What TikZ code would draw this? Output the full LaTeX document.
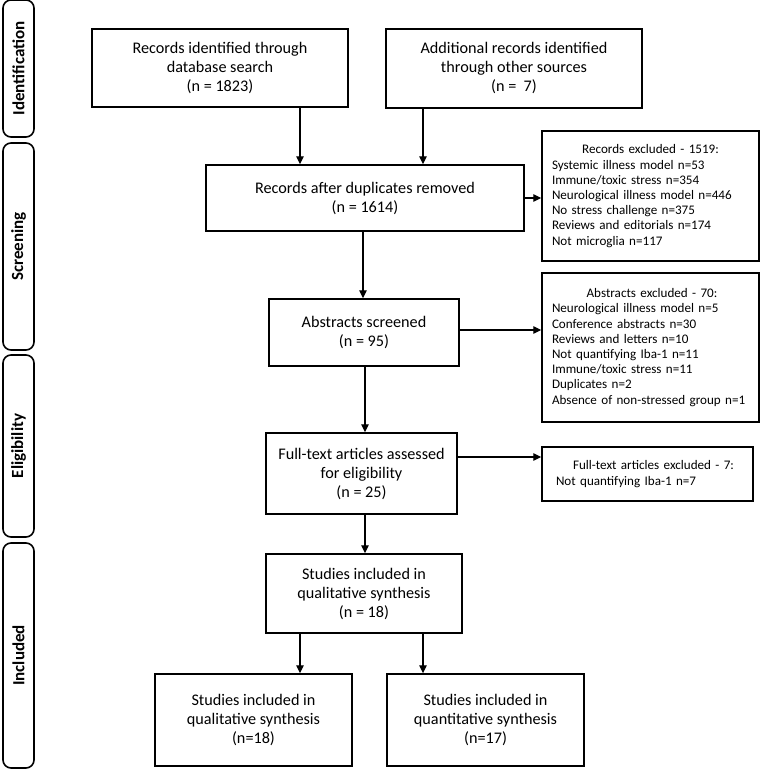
\documentclass[tikz,border=0pt]{standalone}
\usepackage{fontspec}
\setmainfont{Carlito}
\usetikzlibrary{arrows.meta,calc}
\begin{document}
\begin{tikzpicture}[x=1pt,y=-1pt,
  box/.style={draw,line width=1.4pt,align=center,inner sep=2pt,font=\fontsize{16.2}{19}\selectfont},
  exbox/.style={draw,line width=1.4pt,inner xsep=10pt,inner ysep=2pt,align=left,font=\fontsize{13.1}{15.2}\selectfont},
  side/.style={draw,line width=1.6pt,rounded corners=8pt,minimum width=31pt},
  sidelabel/.style={rotate=90,font=\bfseries\fontsize{17}{19}\selectfont},
  arr/.style={line width=1.3pt,-{Triangle[width=7.5pt,length=8pt]}}]
\useasboundingbox (0,0) rectangle (761,770);
% side bars
\node[side,minimum height=137pt] (sid) at (18.5,68.5) {};
\node[sidelabel] (lid) at (sid.center) {Identification};
\node[side,minimum height=207pt] (ssc) at (18.5,246.5) {};
\node[sidelabel] (lsc) at (ssc.center) {Screening};
\node[side,minimum height=182pt] (sel) at (18.5,446) {};
\node[sidelabel] (lel) at (sel.center) {Eligibility};
\node[side,minimum height=225pt] (sin) at (18.5,655.5) {};
\node[sidelabel] (lin) at (sin.center) {Included};
% main boxes
\node[box,minimum width=256pt,minimum height=78pt] (b1) at (220,68) {Records identified through\\database search\\(n = 1823)};
\node[box,minimum width=256pt,minimum height=79pt] (b2) at (514,68.5) {Additional records identified\\through other sources\\(n = \ 7)};
\node[box,minimum width=318pt,minimum height=66pt] (b3) at (365,198) {Records after duplicates removed\\(n = 1614)};
\node[box,minimum width=190pt,minimum height=67pt] (ab) at (364,332.5) {Abstracts screened\\(n = 95)};
\node[box,minimum width=191pt,minimum height=81pt] (ft) at (361.5,473.5) {Full-text articles assessed\\for eligibility\\(n = 25)};
\node[box,minimum width=196pt,minimum height=79pt] (st) at (364,593.5) {Studies included in\\qualitative synthesis\\(n = 18)};
\node[box,minimum width=197pt,minimum height=92pt] (ql) at (253.5,720) {Studies included in\\qualitative synthesis\\(n=18)};
\node[box,minimum width=197pt,minimum height=92pt] (qn) at (485.5,720) {Studies included in\\quantitative synthesis\\(n=17)};
% exclusion boxes
\node[exbox,text width=197pt,minimum height=130pt] (e1) at (650.5,196) {\makebox[\linewidth][c]{Records excluded - 1519:}\\Systemic illness model n=53\\Immune/toxic stress n=354\\Neurological illness model n=446\\No stress challenge n=375\\Reviews and editorials n=174\\Not microglia n=117};
\node[exbox,text width=197pt,minimum height=149pt] (e2) at (650.5,347.5) {\makebox[\linewidth][c]{\hspace*{3pt}Abstracts excluded - 70:}\\Neurological illness model n=5\\Conference abstracts n=30\\Reviews and letters n=10\\Not quantifying Iba-1 n=11\\Immune/toxic stress n=11\\Duplicates n=2\\Absence of non-stressed group n=1};
\node[exbox,inner xsep=14pt,text width=183pt,minimum height=54pt] (e3) at (647.5,474) {\makebox[\linewidth][c]{\hspace*{12pt}Full-text articles excluded - 7:}\\Not quantifying Iba-1 n=7};
% arrow coordinates
\coordinate (xa) at (300,0);
\coordinate (xb) at (423,0);
\coordinate (xc) at (363,0);
\coordinate (xd) at (365,0);
\coordinate (ya) at (0,330);
\coordinate (yb) at (0,457);
% connectors
\draw[arr] (b1.south -| xa) -- (b3.north -| xa);
\draw[arr] (b2.south -| xb) -- (b3.north -| xb);
\draw[arr] (b3.east) -- (b3.east -| e1.west);
\draw[arr] (b3.south -| xc) -- (ab.north -| xc);
\draw[arr] (ab.east |- ya) -- (e2.west |- ya);
\draw[arr] (ab.south -| xd) -- (ft.north -| xd);
\draw[arr] (ft.east |- yb) -- (e3.west |- yb);
\draw[arr] (ft.south -| xd) -- (st.north -| xd);
\draw[arr] (st.south -| xa) -- (ql.north -| xa);
\draw[arr] (st.south -| xb) -- (qn.north -| xb);
\end{tikzpicture}
\end{document}
